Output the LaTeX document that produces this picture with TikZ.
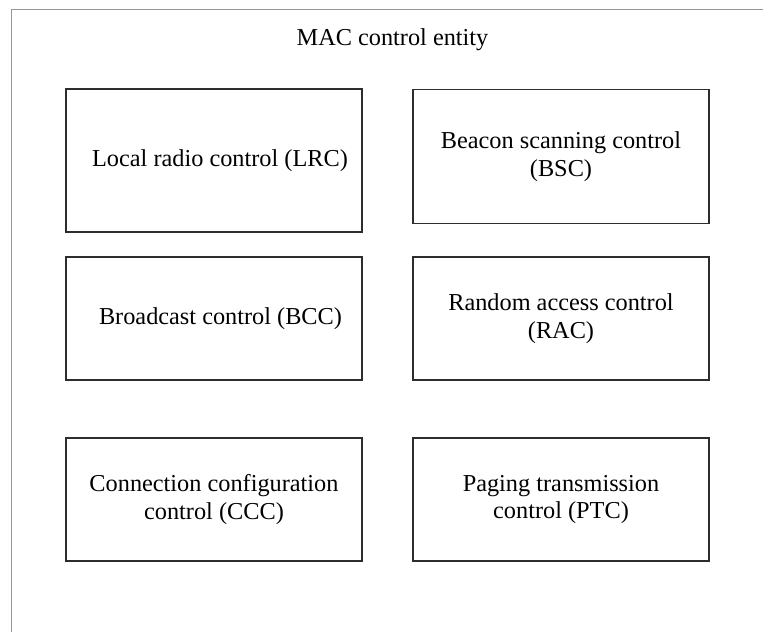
\documentclass[tikz,border=0pt]{standalone}
\usepackage{fontspec}
\setmainfont{Liberation Serif}
\usepackage{tikz}
\usetikzlibrary{positioning}
\definecolor{FrameGray}{RGB}{150,150,150}
\definecolor{BoxEdge}{RGB}{45,45,45}

\begin{document}
\begin{tikzpicture}[x=1pt,y=-1pt,
  ctrlbox/.style={draw=BoxEdge,line width=1.5pt,minimum width=296pt,
                  align=center,inner sep=0pt,
                  font=\fontsize{24.3}{27.5}\selectfont},
]
\useasboundingbox (0,0) rectangle (763,632);
% outer entity frame (cut off at right and bottom)
\coordinate (fbl) at (11,632);
\coordinate (ftl) at (11,9);
\coordinate (ftr) at (763,9);
\draw[FrameGray,line width=1pt] (fbl) -- (ftl) -- (ftr);
\node[font=\fontsize{24.3}{27.5}\selectfont] (title) at (392.5,40) {MAC control entity};

\node[ctrlbox,minimum height=143pt] (lrc) at (214,160.5) {\hspace*{12pt}Local radio control (LRC)};
\node[ctrlbox,minimum height=134pt] (bsc) at (561,156.5) {Beacon scanning control\\(BSC)};
\node[ctrlbox,minimum height=123pt] (bcc) at (214,318.5) {\hspace*{13pt}Broadcast control (BCC)};
\node[ctrlbox,minimum height=123pt] (rac) at (561,318.5) {Random access control\\(RAC)};
\node[ctrlbox,minimum height=123pt] (ccc) at (214,499.5) {Connection configuration\\control (CCC)};
\node[ctrlbox,minimum height=123pt] (ptc) at (561,499.5) {Paging transmission\\control (PTC)};
\end{tikzpicture}
\end{document}
